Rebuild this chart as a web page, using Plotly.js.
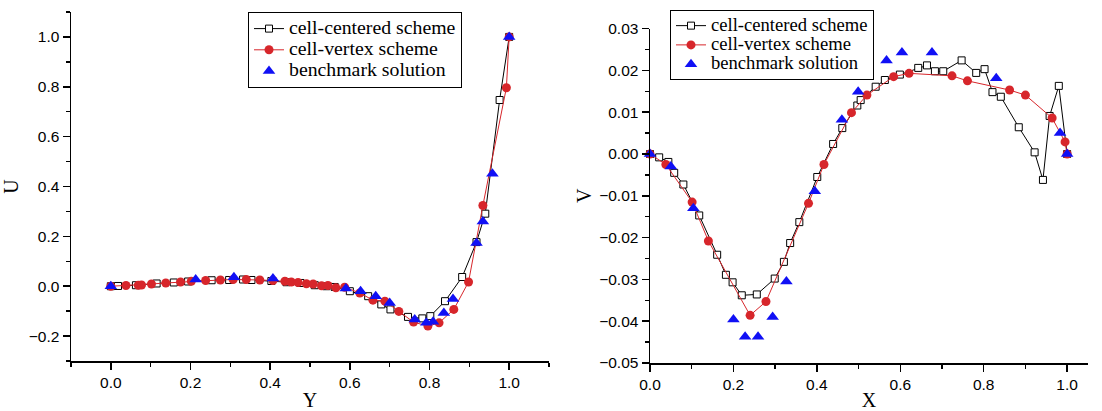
<!DOCTYPE html>
<html>
<head>
<meta charset="utf-8">
<script src="https://cdn.plot.ly/plotly-3.0.1.min.js"></script>
<style>html,body{margin:0;padding:0;background:#fff;}#chart{width:1102px;height:411px;}</style>
</head>
<body>
<div id="chart"></div>
<script>
// ---------- Left panel: U along Y ----------
var leftCcY = [0, 0.018, 0.063, 0.115, 0.158, 0.194, 0.253, 0.297, 0.332, 0.353, 0.403, 0.441, 0.476, 0.512, 0.541, 0.562, 0.600, 0.646, 0.679, 0.702, 0.746, 0.782, 0.802, 0.839, 0.882, 0.918, 0.940, 0.976, 1.0];
var leftCcU = [0, 0.001, 0.004, 0.011, 0.015, 0.019, 0.024, 0.025, 0.027, 0.025, 0.021, 0.016, 0.013, 0.004, 0.0, -0.003, -0.02, -0.04, -0.073, -0.093, -0.123, -0.129, -0.12, -0.06, 0.037, 0.177, 0.291, 0.747, 1.0];

var leftCvY = [0, 0.038, 0.069, 0.077, 0.102, 0.138, 0.175, 0.202, 0.238, 0.275, 0.307, 0.340, 0.374, 0.407, 0.437, 0.453, 0.470, 0.491, 0.508, 0.529, 0.545, 0.565, 0.587, 0.625, 0.658, 0.688, 0.723, 0.760, 0.796, 0.824, 0.861, 0.898, 0.934, 0.993, 1.0];
var leftCvU = [0, 0.003, 0.004, 0.005, 0.009, 0.013, 0.017, 0.02, 0.023, 0.025, 0.027, 0.027, 0.025, 0.023, 0.02, 0.017, 0.015, 0.01, 0.009, 0.002, 0.003, -0.006, -0.004, -0.027, -0.056, -0.06, -0.101, -0.144, -0.16, -0.147, -0.093, 0.017, 0.324, 0.796, 1.0];

var leftBmY = [0, 0.213, 0.309, 0.407, 0.590, 0.627, 0.665, 0.700, 0.763, 0.792, 0.809, 0.836, 0.859, 0.918, 0.934, 0.958, 1.0];
var leftBmU = [0, 0.027, 0.036, 0.031, -0.009, -0.02, -0.04, -0.067, -0.133, -0.147, -0.143, -0.107, -0.051, 0.173, 0.26, 0.451, 1.0];

// ---------- Right panel: V along X ----------
var rightCcX = [0, 0.022, 0.044, 0.058, 0.080, 0.118, 0.161, 0.182, 0.198, 0.220, 0.256, 0.299, 0.321, 0.336, 0.358, 0.401, 0.439, 0.461, 0.497, 0.505, 0.541, 0.563, 0.599, 0.643, 0.664, 0.683, 0.703, 0.747, 0.782, 0.802, 0.821, 0.841, 0.884, 0.922, 0.942, 0.958, 0.980, 1.0];
var rightCcV = [0, -0.0008, -0.0019, -0.0045, -0.0073, -0.0147, -0.0241, -0.0289, -0.0307, -0.0338, -0.0336, -0.0298, -0.0258, -0.0213, -0.0163, -0.0055, 0.0024, 0.0062, 0.0116, 0.0129, 0.0161, 0.0177, 0.019, 0.0206, 0.0212, 0.0198, 0.0198, 0.0224, 0.0194, 0.0203, 0.0148, 0.0137, 0.0064, 0.0004, -0.0062, 0.0091, 0.0163, 0];

var rightCvX = [0, 0.038, 0.101, 0.140, 0.240, 0.278, 0.380, 0.417, 0.483, 0.520, 0.584, 0.621, 0.724, 0.761, 0.862, 0.900, 0.964, 0.995, 1.0];
var rightCvV = [0, -0.0025, -0.0115, -0.0208, -0.0386, -0.0353, -0.0118, -0.0025, 0.0099, 0.0141, 0.0185, 0.0193, 0.0187, 0.0175, 0.0153, 0.0141, 0.0086, 0.0029, 0];

var rightBmX = [0, 0.05, 0.104, 0.2, 0.228, 0.259, 0.294, 0.327, 0.395, 0.460, 0.499, 0.567, 0.604, 0.676, 0.830, 0.983, 1.0];
var rightBmV = [0, -0.003, -0.013, -0.0396, -0.0437, -0.0437, -0.039, -0.0305, -0.0089, 0.0082, 0.0149, 0.0224, 0.0243, 0.0243, 0.0181, 0.005, 0];

var seriesNames = ['cell-centered scheme', 'cell-vertex scheme', 'benchmark solution'];

var RED = '#d7262b', BLUE = '#1010f5';

function nm(s, px) { return '<span style="font-size:' + px + 'px">' + s + '</span>'; }

function ccTrace(x, y, xa, ya, lg, fs) {
  return {x: x, y: y, xaxis: xa, yaxis: ya, legend: lg, type: 'scatter', mode: 'lines+markers',
    name: nm(seriesNames[0], fs), cliponaxis: false,
    line: {color: '#000', width: 1},
    marker: {symbol: 'square', size: 7, color: '#fff', line: {color: '#000', width: 1}}};
}
function cvTrace(x, y, xa, ya, lg, fs) {
  return {x: x, y: y, xaxis: xa, yaxis: ya, legend: lg, type: 'scatter', mode: 'lines+markers',
    name: nm(seriesNames[1], fs), cliponaxis: false,
    line: {color: RED, width: 1},
    marker: {symbol: 'circle', size: 9, color: RED, line: {width: 0}}};
}
function bmTrace(x, y, xa, ya, lg, fs) {
  return {x: x, y: y, xaxis: xa, yaxis: ya, legend: lg, type: 'scatter', mode: 'markers',
    name: nm(seriesNames[2], fs), cliponaxis: false,
    marker: {symbol: 'triangle-up', size: 11, color: BLUE, line: {width: 0}}};
}

var data = [
  ccTrace(leftCcY, leftCcU, 'x', 'y', 'legend', 19.8),
  cvTrace(leftCvY, leftCvU, 'x', 'y', 'legend', 19.8),
  bmTrace(leftBmY, leftBmU, 'x', 'y', 'legend', 19.8),
  ccTrace(rightCcX, rightCcV, 'x2', 'y2', 'legend2', 18.6),
  cvTrace(rightCvX, rightCvV, 'x2', 'y2', 'legend2', 18.6),
  bmTrace(rightBmX, rightBmV, 'x2', 'y2', 'legend2', 18.6)
];

var tickFont = {family: 'Liberation Sans, Arial, sans-serif', size: 15.5, color: '#000'};
var titleFont = {family: 'Liberation Serif, Times New Roman, serif', size: 20, color: '#000'};

function axis(o) {
  var base = {showline: true, linecolor: '#000', linewidth: 1.5, mirror: false,
    showgrid: false, zeroline: false, ticks: 'outside', ticklen: 7, tickwidth: 1.5, tickcolor: '#000',
    tickfont: tickFont, fixedrange: true};
  for (var k in o) base[k] = o[k];
  return base;
}

var PW = 1102 - 71 - 14, PH = 411 - 10 - 48;
var layout = {
  width: 1102, height: 411,
  margin: {l: 71, r: 14, t: 10, b: 48, pad: 0},
  paper_bgcolor: '#fff', plot_bgcolor: '#fff',
  showlegend: true,
  xaxis: axis({domain: [0, (549 - 71) / PW], range: [-0.1, 1.1], tick0: 0, dtick: 0.2, tickformat: '.1f',
    minor: {ticks: 'outside', ticklen: 4, tickwidth: 1.5, tickcolor: '#000', dtick: 0.1, tick0: 0, showgrid: false},
    anchor: 'y', title: {text: 'Y', font: titleFont, standoff: 10}}),
  yaxis: axis({domain: [2 / PH, 1], range: [-0.3, 1.1], tick0: 0, dtick: 0.2, tickformat: '.1f',
    minor: {ticks: 'outside', ticklen: 4, tickwidth: 1.5, tickcolor: '#000', dtick: 0.1, tick0: 0, showgrid: false},
    anchor: 'x', title: {text: 'U', font: titleFont, standoff: 5}}),
  xaxis2: axis({domain: [(650 - 71) / PW, 1], range: [0, 1.05], tick0: 0, dtick: 0.2, tickformat: '.1f',
    minor: {ticks: 'outside', ticklen: 4, tickwidth: 1.5, tickcolor: '#000', dtick: 0.1, tick0: 0, showgrid: false},
    anchor: 'y2', title: {text: 'X', font: titleFont, standoff: 10}}),
  yaxis2: axis({domain: [0, (363 - 26.7) / PH], range: [-0.05, 0.03], tick0: 0, dtick: 0.01, tickformat: '.2f',
    minor: {ticks: 'outside', ticklen: 4, tickwidth: 1.5, tickcolor: '#000', dtick: 0.005, tick0: 0, showgrid: false},
    anchor: 'x2', title: {text: 'V', font: titleFont, standoff: 2}}),
  legend: {x: (248 - 71) / PW, y: 1, xanchor: 'left', yanchor: 'top', bgcolor: '#fff',
    bordercolor: '#000', borderwidth: 1, tracegroupgap: 0, itemwidth: 30,
    font: {family: 'Liberation Serif, Times New Roman, serif', size: 14, color: '#000'}},
  legend2: {x: (670 - 71) / PW, y: 1 + 2 / PH, xanchor: 'left', yanchor: 'top', bgcolor: '#fff',
    bordercolor: '#000', borderwidth: 1, tracegroupgap: 0, itemwidth: 30,
    font: {family: 'Liberation Serif, Times New Roman, serif', size: 12.5, color: '#000'}}
};

Plotly.newPlot('chart', data, layout, {displayModeBar: false, staticPlot: true});
</script>
</body>
</html>
